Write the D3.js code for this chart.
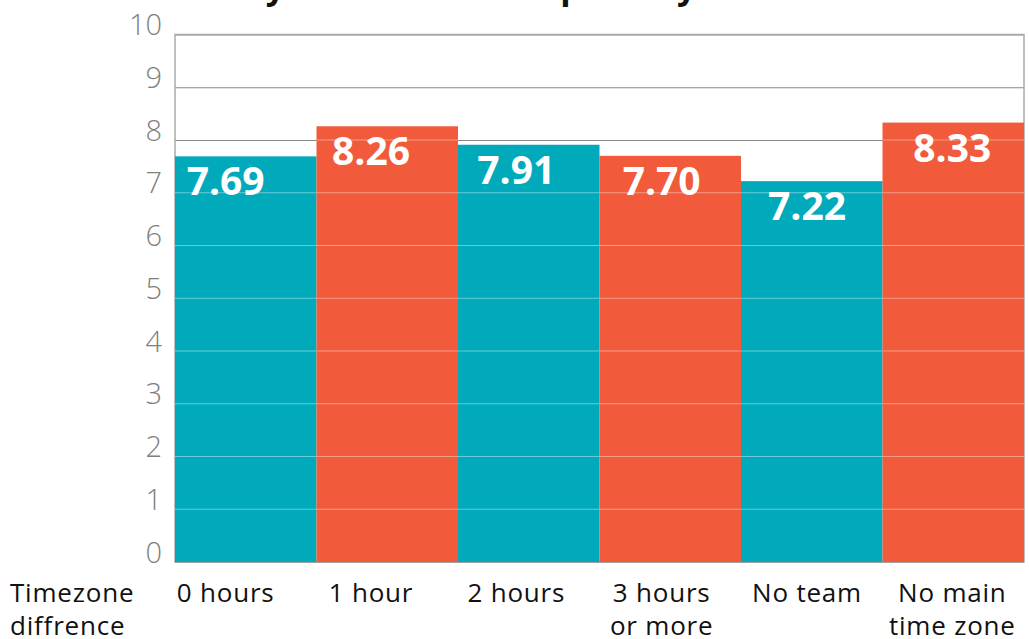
<!DOCTYPE html>
<html>
<head>
<meta charset="utf-8">
<script src="https://cdn.jsdelivr.net/npm/d3@7"></script>
<style>
  body { margin: 0; background: #fff; }
  text { font-family: "Open Sans", "Noto Sans", sans-serif; }
</style>
</head>
<body>
<div id="chart"></div>
<script>
const width = 1029
const height = 639
const margin = {top: 34.5, bottom: 77, left: 175, right: 5}

// data
const categories = ["0 hours", "1 hour", "2 hours", "3 hours\nor more", "No team", "No main\ntime zone"]
const values = [7.69, 8.26, 7.91, 7.70, 7.22, 8.33]
const barColors = ["#00aabb", "#f15a3a", "#00aabb", "#f15a3a", "#00aabb", "#f15a3a"]
const yTicks = [0, 1, 2, 3, 4, 5, 6, 7, 8, 9, 10]
const axisTitle = ["Timezone", "diffrence"]
const title = "How do you evaluate the primary remote work model"

const data = categories.map((c, i) => ({cat: c, value: values[i], color: barColors[i]}))

const svg = d3.select("#chart").append("svg").attr("width", width).attr("height", height)

const innerW = width - margin.left - margin.right
const innerH = height - margin.top - margin.bottom

const x = d3.scaleBand().domain(categories).range([0, innerW]).padding(0)
// labels sit on a slightly wider band than the bars
const xLabel = d3.scaleBand().domain(categories).range([153 - margin.left, 1025 - margin.left])
const y = d3.scaleLinear().domain([0, 10]).range([innerH, 0])

const g = svg.append("g").attr("transform", `translate(${margin.left}, ${margin.top})`)

// title (mostly cut off at the top)
svg.append("text")
    .attr("x", 585).attr("y", -1)
    .attr("text-anchor", "middle")
    .attr("font-size", 34).attr("font-weight", 700)
    .attr("fill", "#111")
    .text(title)

// grey grid
const grid = g.append("g")
    .call(d3.axisLeft(y).tickValues(yTicks).tickSize(-innerW).tickFormat(""))
grid.select(".domain").remove()
grid.selectAll(".tick line").attr("stroke", "#888").attr("stroke-width", 1.2)

// frame
g.append("rect")
    .attr("x", 0).attr("y", 0).attr("width", innerW).attr("height", innerH)
    .attr("fill", "none").attr("stroke", "#aaa").attr("stroke-width", 1.5)

// bars
g.selectAll(".bar").data(data).enter()
    .append("rect")
    .attr("class", "bar")
    .attr("x", d => x(d.cat))
    .attr("y", d => y(d.value))
    .attr("width", x.bandwidth())
    .attr("height", d => innerH - y(d.value))
    .attr("fill", d => d.color)

// light grid lines over bars
data.forEach(d => {
    g.selectAll(null).data(yTicks.filter(t => t > 0 && t < d.value)).enter()
        .append("line")
        .attr("x1", x(d.cat)).attr("x2", x(d.cat) + x.bandwidth())
        .attr("y1", t => y(t)).attr("y2", t => y(t))
        .attr("stroke", "#fff").attr("stroke-opacity", 0.4).attr("stroke-width", 1.2)
})

// value labels
g.selectAll(".val").data(data).enter()
    .append("text")
    .attr("class", "val")
    .attr("x", d => xLabel(d.cat) + xLabel.bandwidth() / 2)
    .attr("y", d => y(d.value) + 39)
    .attr("text-anchor", "middle")
    .attr("font-size", 39).attr("font-weight", 700)
    .attr("fill", "#fff")
    .text(d => d.value.toFixed(2))

// y axis labels
const yAxis = g.append("g")
    .call(d3.axisLeft(y).tickValues(yTicks).tickSize(0).tickPadding(13))
yAxis.select(".domain").remove()
yAxis.selectAll(".tick text")
    .attr("font-size", 29).attr("font-weight", 300)
    .attr("fill", "#808080")
    .attr("dy", "0")

// x labels
const xl = g.selectAll(".xl").data(data).enter()
    .append("text")
    .attr("class", "xl")
    .attr("x", d => xLabel(d.cat) + xLabel.bandwidth() / 2)
    .attr("y", innerH + 40)
    .attr("text-anchor", "middle")
    .attr("font-size", 26).attr("font-weight", 500)
    .attr("letter-spacing", 0.8)
    .attr("fill", "#111")
xl.selectAll("tspan").data(d => d.cat.split("\n")).enter()
    .append("tspan")
    .attr("x", function() { return d3.select(this.parentNode).attr("x") })
    .attr("dy", (d, i) => i === 0 ? 0 : 33)
    .text(d => d)

const at = svg.append("text")
    .attr("x", 10).attr("y", margin.top + innerH + 40)
    .attr("font-size", 26).attr("font-weight", 500)
    .attr("letter-spacing", 0.8).attr("fill", "#111")
at.selectAll("tspan").data(axisTitle).enter()
    .append("tspan")
    .attr("x", 10)
    .attr("dy", (d, i) => i === 0 ? 0 : 33)
    .text(d => d)
</script>
</body>
</html>
